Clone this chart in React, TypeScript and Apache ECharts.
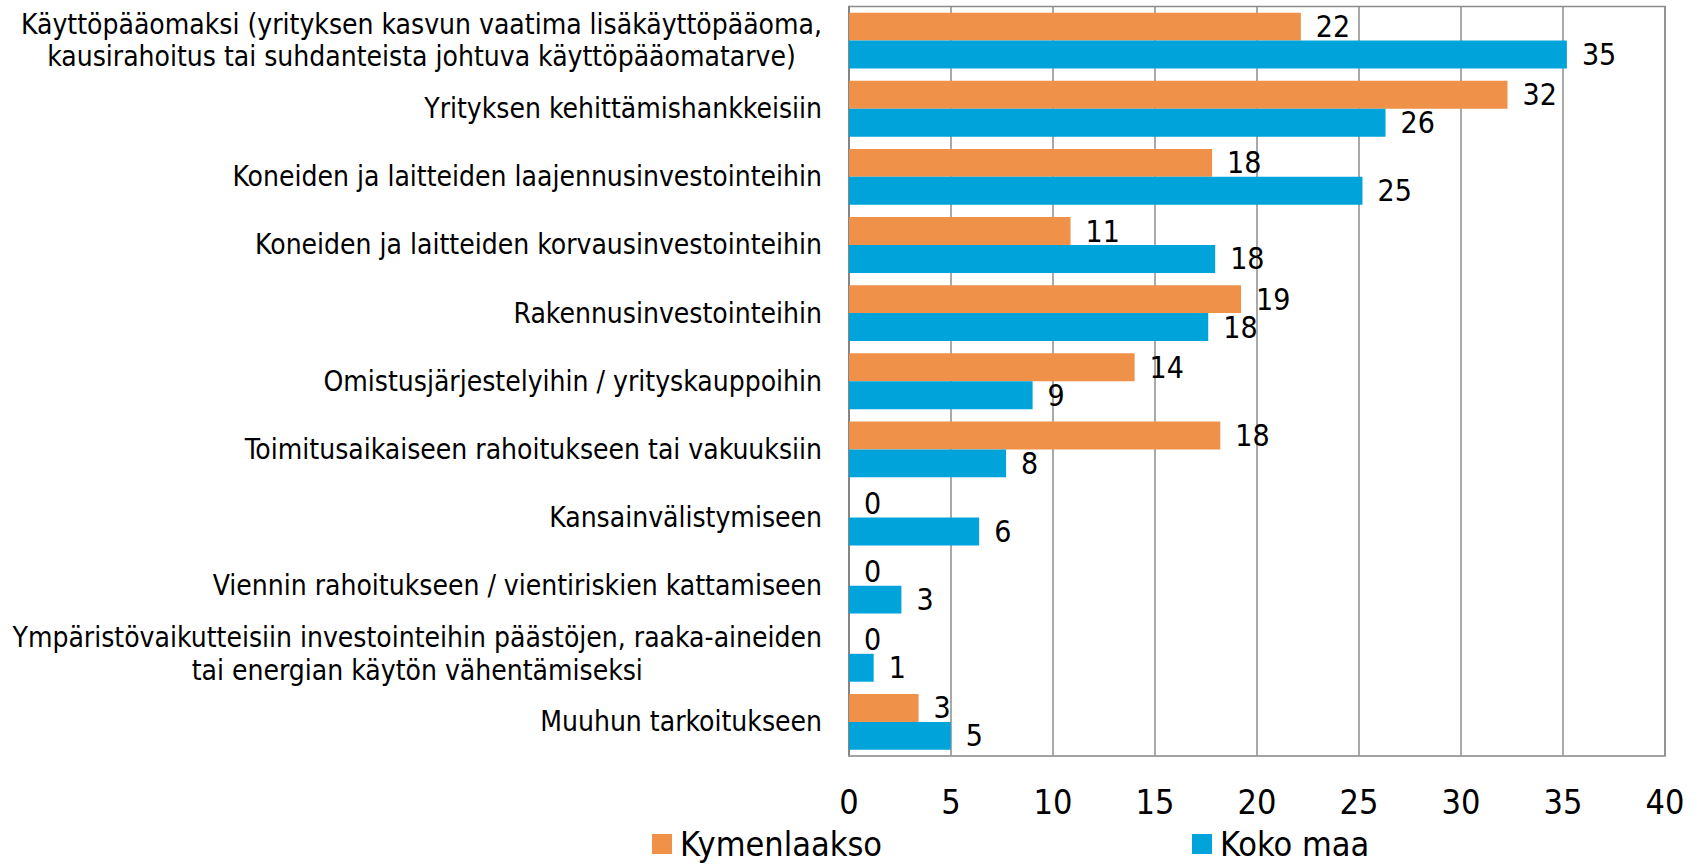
import React, { useEffect, useRef } from "react";
import * as echarts from "echarts";

const categories: string[] = [
  "Käyttöpääomaksi (yrityksen kasvun vaatima lisäkäyttöpääoma,\nkausirahoitus tai suhdanteista johtuva käyttöpääomatarve)",
  "Yrityksen kehittämishankkeisiin",
  "Koneiden ja laitteiden laajennusinvestointeihin",
  "Koneiden ja laitteiden korvausinvestointeihin",
  "Rakennusinvestointeihin",
  "Omistusjärjestelyihin / yrityskauppoihin",
  "Toimitusaikaiseen rahoitukseen tai vakuuksiin",
  "Kansainvälistymiseen",
  "Viennin rahoitukseen / vientiriskien kattamiseen",
  "Ympäristövaikutteisiin investointeihin päästöjen, raaka-aineiden\ntai energian käytön vähentämiseksi",
  "Muuhun tarkoitukseen",
];

const kymenlaakso: number[] = [22.15, 32.28, 17.8, 10.86, 19.22, 14.0, 18.2, 0, 0, 0, 3.41];
const kokoMaa: number[] = [35.19, 26.3, 25.17, 17.95, 17.61, 9.0, 7.7, 6.38, 2.57, 1.21, 4.99];

const seriesNames: string[] = ["Kymenlaakso", "Koko maa"];
const xTicks = { min: 0, max: 40, interval: 5 };

const FONT = "'DejaVu Sans Condensed', 'DejaVu Sans', sans-serif";
const ORANGE = "#F0914A";
const BLUE = "#00A3DA";

export default function App() {
  const ref = useRef<HTMLDivElement>(null);
  useEffect(() => {
    if (!ref.current) return;
    const chart = echarts.init(ref.current, undefined, { renderer: "svg" });
    const labelStyle = {
      show: true,
      position: "right" as const,
      distance: 15,
      color: "#000",
      fontFamily: FONT,
      fontSize: 30,
      formatter: (p: any) => String(Math.round(p.value)),
    };
    const legendText = {
      fontFamily: FONT,
      fontSize: 34,
      color: "#000",
      lineHeight: 30,
      padding: [0, 0, 0, 3],
    };
    chart.setOption({
      animation: false,
      backgroundColor: "#ffffff",
      grid: {
        left: 849,
        right: 37,
        top: 6.5,
        bottom: 108,
        show: true,
        borderColor: "#8c8c8c",
        borderWidth: 1.5,
        containLabel: false,
      },
      legend: [
        {
          data: [seriesNames[0]],
          left: 652,
          top: 827,
          padding: 0,
          itemWidth: 20,
          itemHeight: 20,
          icon: "rect",
          textStyle: legendText,
        },
        {
          data: [seriesNames[1]],
          left: 1192,
          top: 827,
          padding: 0,
          itemWidth: 20,
          itemHeight: 20,
          icon: "rect",
          textStyle: legendText,
        },
      ],
      xAxis: {
        type: "value",
        min: xTicks.min,
        max: xTicks.max,
        interval: xTicks.interval,
        axisLine: { show: true, lineStyle: { color: "#a0a0a0", width: 1.5 } },
        axisTick: { show: false },
        splitLine: { show: true, lineStyle: { color: "#8c8c8c", width: 1.5 } },
        axisLabel: { color: "#000", fontFamily: FONT, fontSize: 34, margin: 29 },
      },
      yAxis: {
        type: "category",
        data: categories,
        inverse: true,
        axisLine: { show: true, lineStyle: { color: "#808080", width: 1.5 } },
        axisTick: { show: false },
        axisLabel: {
          margin: 27,
          color: "#000",
          fontFamily: FONT,
          fontSize: 28,
          lineHeight: 32.5,
          formatter: (v: string) =>
            v
              .split("\n")
              .map((l) => `{c|${l}}`)
              .join("\n"),
          rich: {
            c: { align: "center", fontFamily: FONT, fontSize: 28, lineHeight: 32.5, color: "#000" },
          },
        },
      },
      series: [
        {
          name: seriesNames[0],
          type: "bar",
          data: kymenlaakso,
          itemStyle: { color: ORANGE },
          barGap: "0%",
          barCategoryGap: "18%",
          label: labelStyle,
        },
        {
          name: seriesNames[1],
          type: "bar",
          data: kokoMaa,
          itemStyle: { color: BLUE },
          barGap: "0%",
          barCategoryGap: "18%",
          label: labelStyle,
        },
      ],
    });
    return () => chart.dispose();
  }, []);
  return (
    <div
      ref={ref}
      style={{ position: "absolute", left: 0, top: 0, width: 1702, height: 864 }}
    />
  );
}
